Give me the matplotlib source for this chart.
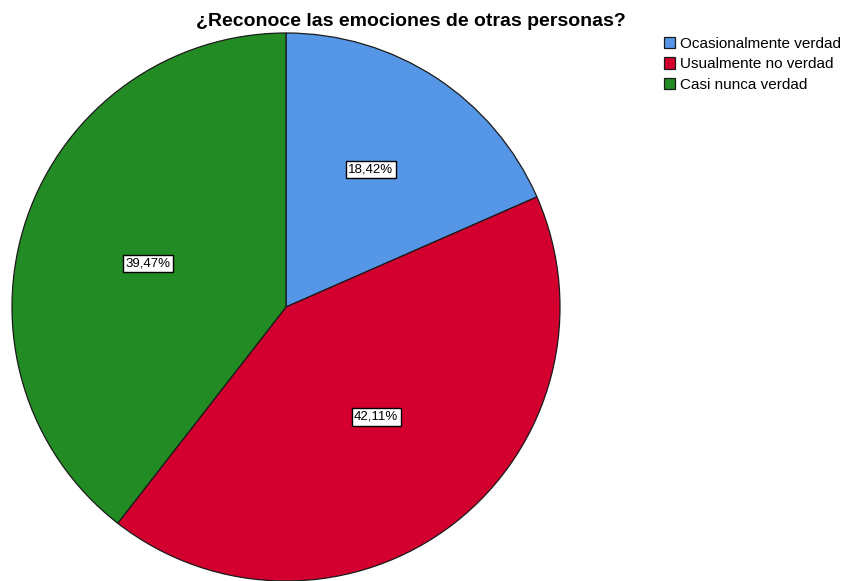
import numpy as np
import matplotlib.pyplot as plt
from matplotlib.patches import Patch

plt.rcParams['font.family'] = ['Liberation Sans', 'DejaVu Sans']

# Respuestas (frecuencias) a la pregunta
categorias = ['Ocasionalmente verdad', 'Usualmente no verdad', 'Casi nunca verdad']
frecuencias = [7, 16, 15]
colores = ['#5596E6', '#D3002F', '#238B23']

total = sum(frecuencias)

fig = plt.figure(figsize=(8.46, 5.81), dpi=100)
ax = fig.add_axes([12 / 846, 0, 548 / 846, 548 / 581])

wedges, textos = ax.pie(
    frecuencias,
    colors=colores,
    startangle=90,
    counterclock=False,
    labels=[f'{100 * v / total:.2f}%'.replace('.', ',') for v in frecuencias],
    wedgeprops=dict(edgecolor='#1a1a1a', linewidth=0.9),
    textprops=dict(fontsize=9.5, ha='center', va='center'),
)

# etiquetas entre el centroide de cada sector y un radio fijo
for w, t in zip(wedges, textos):
    span = np.deg2rad(abs(w.theta2 - w.theta1))
    mid = np.deg2rad((w.theta1 + w.theta2) / 2 + 1.5)
    d = 0.5 * (2 * np.sin(span / 2) / (3 * span / 2)) + 0.5 * 0.55
    t.set_position((d * np.cos(mid), d * np.sin(mid)))
    t.set_bbox(dict(boxstyle='square,pad=0.2', fc='white', ec='black', lw=1.0))

ax.set_aspect('auto')
ax.set_xlim(-1, 1)
ax.set_ylim(-1, 1)
ax.axis('off')

fig.text(411 / 846, 1 - 21 / 581, '¿Reconoce las emociones de otras personas?',
         ha='center', va='center', fontsize=14, fontweight='bold')

handles = [Patch(facecolor=c, edgecolor='#1a1a1a', linewidth=0.9) for c in colores]
fig.legend(handles, categorias, loc='upper left',
           bbox_to_anchor=(664 / 846, 1 - 37 / 581), frameon=False,
           fontsize=11, handlelength=0.75, handleheight=0.75,
           handletextpad=0.3, labelspacing=0.42, borderaxespad=0,
           borderpad=0)

fig.savefig('out.png', dpi=100)
